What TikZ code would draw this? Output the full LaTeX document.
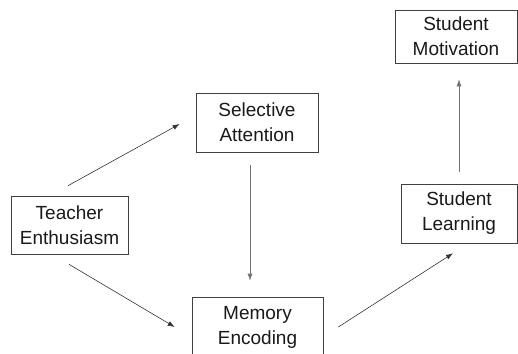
\documentclass[tikz,border=0pt]{standalone}
\usepackage{fontspec}
\setmainfont{Liberation Sans}
\usetikzlibrary{calc,arrows.meta}
\begin{document}
\begin{tikzpicture}[x=1pt,y=-1pt,
  box/.style={draw=black!75, line width=0.6pt, align=center, inner sep=0pt,
    font=\fontsize{19}{25}\selectfont, text=black!90},
  arr/.style={draw=black!80, line width=0.6pt, -{Latex[length=7pt,width=5pt]}},
  varr/.style={draw=black!55, line width=0.6pt, -{Latex[length=7pt,width=5pt]}}]
\useasboundingbox (0,0) rectangle (518,353);
\begin{scope}
\clip (0,0) rectangle (518,353);
\node[box, minimum width=117pt, minimum height=58pt] (T) at (69.5,225) {Teacher\\Enthusiasm};
\node[box, minimum width=122pt, minimum height=59pt] (S) at (257,122.5) {Selective\\Attention};
\node[box, minimum width=131pt, minimum height=60pt] (M) at (257.5,327) {Memory\\Encoding};
\node[box, minimum width=116pt, minimum height=59pt] (L) at (459,213.5) {Student\\Learning};
\node[box, minimum width=122pt, minimum height=53pt] (V) at (456,36.5) {Student\\Motivation};
\end{scope}
\draw[arr] ($(T.north)+(-1.5,-10)$) -- ($(S.west)+(-16,1.5)$);
\draw[arr] ($(T.south)+(-0.5,10)$) -- ($(M.west)+(-17,0)$);
\draw[varr] ($(S.south)+(-7,13)$) -- ($(M.north)+(-7.5,-16)$);
\draw[arr] ($(M.east)+(15,0)$) -- ($(L.south)+(-6,10)$);
\draw[varr] ($(L.north)+(0,-12)$) -- ($(V.south)+(3,16)$);
\end{tikzpicture}
\end{document}
